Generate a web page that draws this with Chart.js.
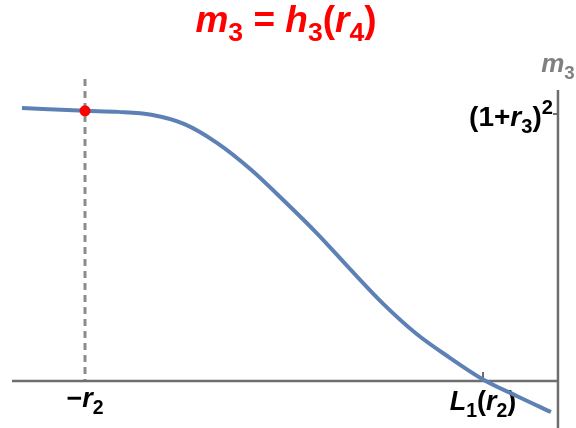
<!DOCTYPE html>
<html>
<head>
<meta charset="utf-8">
<script src="https://cdn.jsdelivr.net/npm/chart.js@4/dist/chart.umd.min.js"></script>
<style>
html,body{margin:0;padding:0;background:#fff;}
#wrap{position:relative;width:576px;height:428px;}
</style>
</head>
<body>
<div id="wrap"><canvas id="c" width="576" height="428"></canvas></div>
<script>
// ---- data (abstract units: -r2 = -1, L1(r2) = 2, (1+r3)^2 = 1) ----
const curveX = [-1.475, -1.0, -0.75, -0.5, -0.25, 0.0, 0.25, 0.5, 0.75, 1.0, 1.25, 1.5, 1.75, 2.0, 2.25, 2.512];
const curveY = [1.0225, 1.012, 1.008, 0.997, 0.962, 0.89, 0.792, 0.675, 0.552, 0.418, 0.288, 0.176, 0.087, 0.006, -0.055, -0.116];
const markedX = [-1.0];
const markedY = [1.012];
const xTickValues = [-1, 2];
const xTickLabels = ["−r_2", "L_1(r_2)"];
const yTickValues = [1];
const yTickLabels = ["(1+r_3)^2"];
const yAxisLabel = "m_3";
const titleText = "m_3 = h_3(r_4)";

const FONT = '"Liberation Sans", Arial, sans-serif';

function parseRich(s){
  const parts=[];
  for(let i=0;i<s.length;i++){
    let c=s[i], mode='n';
    if(c==='_'){mode='sub';c=s[++i];}
    else if(c==='^'){mode='sup';c=s[++i];}
    parts.push({c, mode, italic:/[A-Za-z]/.test(c)});
  }
  return parts;
}
function fontFor(p,size){
  const sz = p.mode==='n'?size:size*0.72;
  return (p.italic?'italic ':'')+'bold '+sz+'px '+FONT;
}
function drawRich(ctx,s,x,y,size,color,align){
  const parts=parseRich(s);
  let w=0;
  parts.forEach(p=>{ctx.font=fontFor(p,size);p.w=ctx.measureText(p.c).width;w+=p.w;});
  let cx = align==='center'?x-w/2:(align==='right'?x-w:x);
  ctx.fillStyle=color;ctx.textBaseline='alphabetic';ctx.textAlign='left';
  parts.forEach(p=>{
    ctx.font=fontFor(p,size);
    let dy = p.mode==='sub'?size*0.25:(p.mode==='sup'?-size*0.42:0);
    ctx.fillText(p.c,cx,y+dy);
    cx+=p.w;
  });
}

const axesPlugin = {
  id:'axesPlugin',
  beforeDatasetsDraw(chart){
    const ctx=chart.ctx, xs=chart.scales.x, ys=chart.scales.y;
    const y0=ys.getPixelForValue(0);
    const xLeft=xs.getPixelForValue(-1.55), xRight=xs.getPixelForValue(2.565);
    ctx.save();
    // dashed guide at first x tick
    ctx.strokeStyle='#8c8c8c';ctx.lineWidth=3;ctx.setLineDash([7,5]);
    const gx=xs.getPixelForValue(xTickValues[0]);
    ctx.beginPath();ctx.moveTo(gx,ys.getPixelForValue(1.131));ctx.lineTo(gx,y0);ctx.stroke();
    ctx.setLineDash([]);
    // axes
    ctx.strokeStyle='#6e6e6e';ctx.lineWidth=2.5;
    ctx.beginPath();ctx.moveTo(xLeft,y0);ctx.lineTo(xRight,y0);ctx.stroke();
    ctx.beginPath();ctx.moveTo(xRight,ys.getPixelForValue(1.09));ctx.lineTo(xRight,chart.height);ctx.stroke();
    // ticks
    ctx.lineWidth=2;
    const tx=xs.getPixelForValue(xTickValues[1]);
    ctx.beginPath();ctx.moveTo(tx,y0);ctx.lineTo(tx,y0-9);ctx.stroke();
    const ty=ys.getPixelForValue(yTickValues[0]);
    ctx.beginPath();ctx.moveTo(xRight,ty);ctx.lineTo(xRight-5,ty);ctx.stroke();
    // labels
    drawRich(ctx,xTickLabels[0],gx,407,27,'#000','center');
    drawRich(ctx,xTickLabels[1],tx,410,27,'#000','center');
    drawRich(ctx,yTickLabels[0],xRight-5,ty+12,28,'#000','right');
    drawRich(ctx,yAxisLabel,xRight,72,26,'#808080','center');
    drawRich(ctx,titleText,286,32,37,'#ff0000','center');
    ctx.restore();
  }
};

new Chart(document.getElementById('c'),{
  type:'scatter',
  data:{datasets:[
    {data:markedX.map((x,i)=>({x,y:markedY[i]})),pointRadius:5.5,pointBackgroundColor:'#ff0000',pointBorderWidth:0,showLine:false,order:0},
    {data:curveX.map((x,i)=>({x,y:curveY[i]})),showLine:true,borderColor:'#5e81b5',borderWidth:4,pointRadius:0,cubicInterpolationMode:'monotone',fill:false,order:1}
  ]},
  options:{
    responsive:false,animation:false,
    layout:{padding:0,autoPadding:false},
    plugins:{legend:{display:false},tooltip:{enabled:false},title:{display:false}},
    scales:{
      x:{type:'linear',display:false,min:-1.6407,max:2.7009},
      y:{type:'linear',display:false,min:-0.176,max:1.427}
    }
  },
  plugins:[axesPlugin]
});
</script>
</body>
</html>
